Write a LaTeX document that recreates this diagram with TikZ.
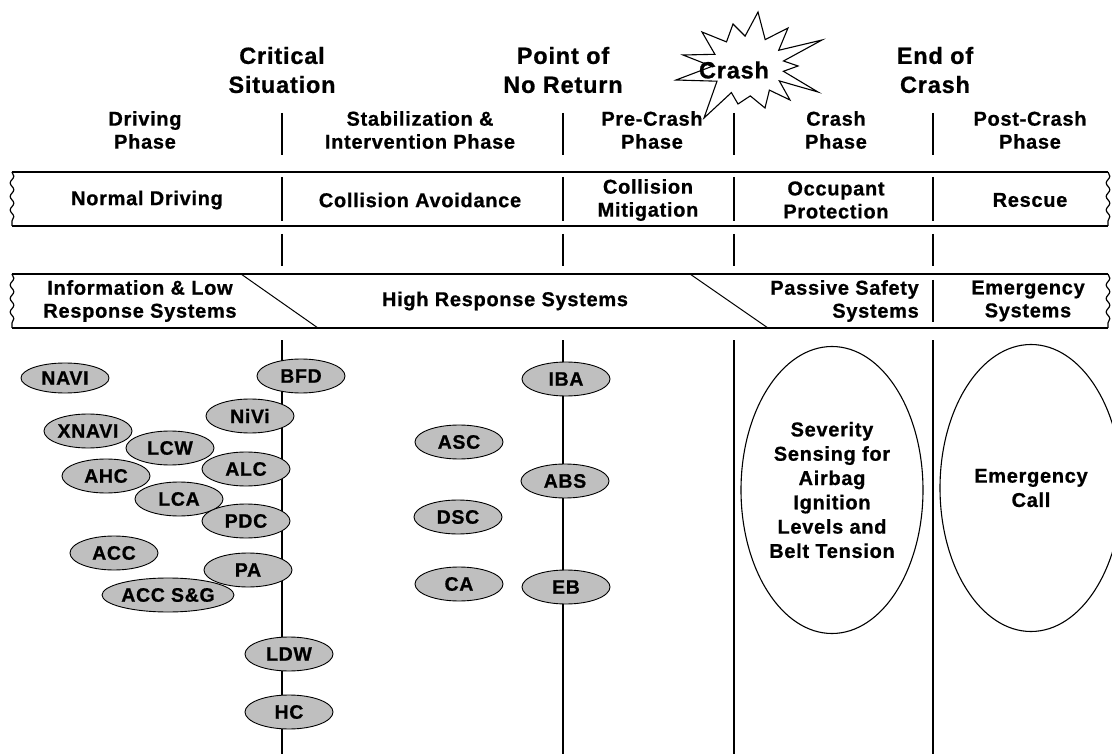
\documentclass[tikz,border=0pt]{standalone}
\usepackage{fontspec}
\setmainfont{Liberation Sans}[BoldFeatures={FakeBold=0.8}, LetterSpace=3.5]
\usetikzlibrary{shapes.geometric,decorations.pathmorphing}
\begin{document}
\begin{tikzpicture}[x=1pt,y=-1pt,
  lbl/.style={font=\fontsize{20}{23}\selectfont\bfseries, align=center, inner sep=0pt},
  biglbl/.style={font=\fontsize{23.5}{29}\selectfont\bfseries, align=center, inner sep=0pt},
  sys/.style={ellipse, draw, fill=black!25, line width=0.9pt, minimum width=88pt,
    minimum height=34pt, inner sep=0pt, font=\fontsize{19.5}{23}\selectfont\bfseries},
  bigsys/.style={ellipse, draw, fill=white, line width=1.1pt, minimum width=182pt,
    minimum height=287pt, inner sep=0pt, align=center,
    font=\fontsize{20}{24.3}\selectfont\bfseries},
  divider/.style={line width=1.2pt},
  bandline/.style={line width=2pt},
  wavy/.style={line width=1.2pt, decorate,
    decoration={snake, amplitude=1.8pt, segment length=13.5pt}},
]
\useasboundingbox (0,0) rectangle (1112,754);

% ---- milestone labels
\node[biglbl] (crit) at (282,70) {Critical\\Situation};
\node[biglbl] (pnr) at (563,70) {Point of\\No Return};
\node[biglbl] (eoc) at (935,70) {End of\\Crash};

% ---- crash burst
\draw[line width=1.1pt, fill=white, line join=miter]
  (683,55) -- (714.9,54.3) -- (702,32) -- (726.5,41.9) -- (733,24) -- (745.1,36.1)
  -- (758,12) -- (765.2,39.6) -- (788,28) -- (778.7,50.3) -- (822,40) -- (783.5,61)
  -- (798,66) -- (783.4,71.3) -- (818,92) -- (779.3,80.9) -- (790,100) -- (769.4,90.1)
  -- (765,108) -- (750.3,95.9) -- (738,104) -- (731.4,92.6) -- (704,118) -- (717,81.2)
  -- (676,80) -- (712,66.4) -- cycle;
\node[biglbl] (crash) at (734,70) {Crash};

% ---- phase headings
\node[lbl] (ph1) at (145,130) {Driving\\Phase};
\node[lbl] (ph2) at (420,130) {Stabilization \&\\Intervention Phase};
\node[lbl] (ph3) at (652,130) {Pre-Crash\\Phase};
\node[lbl] (ph4) at (836,130) {Crash\\Phase};
\node[lbl] (ph5) at (1030,130) {Post-Crash\\Phase};

% ---- phase boundaries in the heading row, the bands and the system area
\foreach \x/\n in {282/a,563/b,734/c,933/d}{
  \coordinate (h\n1) at (\x,113); \coordinate (h\n2) at (\x,155);
  \coordinate (m\n1) at (\x,234); \coordinate (m\n2) at (\x,266);
  \coordinate (f\n1) at (\x,177); \coordinate (f\n2) at (\x,221);
  \coordinate (t\n1) at (\x,340); \coordinate (t\n2) at (\x,754);
  \draw[divider] (h\n1) -- (h\n2);
  \draw[divider] (m\n1) -- (m\n2);
  \draw[divider] (f\n1) -- (f\n2);
  \draw[divider] (t\n1) -- (t\n2);
}

% ---- band 1: driving functions
\coordinate (b1tl) at (12,172); \coordinate (b1tr) at (1108,172);
\coordinate (b1bl) at (12,226); \coordinate (b1br) at (1108,226);
\draw[bandline] (b1tl) -- (b1tr);
\draw[bandline] (b1bl) -- (b1br);
\draw[wavy] (b1tl) -- (b1bl);
\draw[wavy] (b1tr) -- (b1br);
\node[lbl] (f1) at (147,200) {Normal Driving};
\node[lbl] (f2) at (420,200) {Collision Avoidance};
\node[lbl] (f3) at (648,200) {Collision\\Mitigation};
\node[lbl] (f4) at (836,200) {Occupant\\Protection};
\node[lbl] (f5) at (1030,200) {Rescue};

% ---- band 2: system classes
\coordinate (b2tl) at (12,274); \coordinate (b2tr) at (1108,274);
\coordinate (b2bl) at (12,328); \coordinate (b2br) at (1108,328);
\draw[bandline] (b2tl) -- (b2tr);
\draw[bandline] (b2bl) -- (b2br);
\draw[wavy] (b2tl) -- (b2bl);
\draw[wavy] (b2tr) -- (b2br);
\coordinate (d1a) at (241,274); \coordinate (d1b) at (318,328);
\coordinate (d2a) at (690,274); \coordinate (d2b) at (768,328);
\draw[line width=1pt] (d1a) -- (d1b);
\draw[line width=1pt] (d2a) -- (d2b);
\coordinate (s1) at (933,280); \coordinate (s2) at (933,322);
\draw[divider] (s1) -- (s2);
\node[lbl] (c1) at (140,301) {Information \& Low\\Response Systems};
\node[lbl] (c2) at (505,301) {High Response Systems};
\node[lbl, align=right, anchor=east] (c3) at (919,301) {Passive Safety\\Systems};
\node[lbl] (c4) at (1028,301) {Emergency\\Systems};

% ---- individual systems
\node[sys, minimum height=30pt] (navi) at (65,378) {NAVI};
\node[sys] (bfd) at (301,376) {BFD};
\node[sys] (xnavi) at (88,431) {XNAVI};
\node[sys] (nivi) at (250,416) {NiVi};
\node[sys] (lcw) at (170,448) {LCW};
\node[sys] (alc) at (246,469) {ALC};
\node[sys] (ahc) at (106,476) {AHC};
\node[sys] (lca) at (179,499) {LCA};
\node[sys] (pdc) at (246,521) {PDC};
\node[sys] (acc) at (114,553) {ACC};
\node[sys] (pa) at (248,570) {PA};
\node[sys, minimum width=117pt] (accsg) at (168,595) {ACC S\&G};
\node[sys] (ldw) at (289,654) {LDW};
\node[sys] (hc) at (289,712) {HC};

\node[sys] (iba) at (566,379) {IBA};
\node[sys] (asc) at (459,442) {ASC};
\node[sys] (abs) at (565,481) {ABS};
\node[sys] (dsc) at (458,517) {DSC};
\node[sys] (ca) at (459,584) {CA};
\node[sys] (eb) at (566,587) {EB};

\node[bigsys] (sev) at (832,490) {Severity\\Sensing for\\Airbag\\Ignition\\Levels and\\Belt Tension};
\node[bigsys] (ecall) at (1031,488) {Emergency\\Call};
\end{tikzpicture}
\end{document}
